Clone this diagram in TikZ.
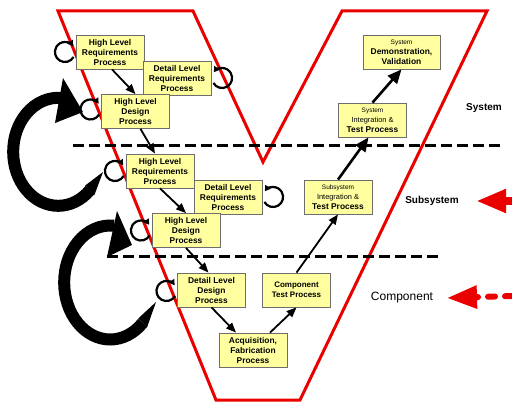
\documentclass[tikz,border=0pt]{standalone}
\usepackage{fontspec}
\setmainfont{Liberation Sans}
\usetikzlibrary{arrows.meta,calc}
\definecolor{boxfill}{RGB}{255,255,160}
\definecolor{boxline}{RGB}{110,110,110}
\definecolor{vred}{RGB}{235,0,0}
\begin{document}
\begin{tikzpicture}[x=1pt,y=-1pt,
  box/.style={draw=boxline, line width=0.8pt, fill=boxfill, minimum width=68pt, minimum height=34pt,
    inner sep=0pt, align=center, font=\fontsize{8.4}{10}\selectfont\bfseries},
  flow/.style={line width=1.8pt, -{Triangle[width=8pt,length=10pt]}},
  bigflow/.style={line width=2.6pt, -{Triangle[width=12pt,length=14pt]}},
  loopc/.style={line width=2.2pt, -{Triangle[width=6.5pt,length=5.5pt]}},
  dashline/.style={line width=3pt, dash pattern=on 11pt off 5pt},
  swirl/.style={line width=12pt, black},
  lvl/.style={font=\fontsize{10}{12}\selectfont\bfseries, inner sep=0pt},
  redarrow/.style={vred, line width=8pt, -{Triangle[width=22pt,length=30pt]}},
  reddash/.style={vred, line width=6pt, line cap=round, dash pattern=on 7pt off 10pt, -{Triangle[width=22pt,length=30pt]}}
]
\useasboundingbox (0,0) rectangle (512,404);

% V shape
\draw[vred, line width=3pt, line join=miter] (58,11) -- (193,11) -- (263,162) -- (342,11) -- (487,11) -- (300,400) -- (216,400) -- cycle;

% level separators
\coordinate (d1a) at (73,145); \coordinate (d1b) at (500,145);
\coordinate (d2a) at (107,256); \coordinate (d2b) at (440,256);
\draw[dashline] (d1a) -- (d1b);
\draw[dashline] (d2a) -- (d2b);

% big swirl arrows (with tapered tails)
\coordinate (s1) at (90,190);
\draw[swirl] (s1) arc[start angle=45, end angle=275, x radius=45, y radius=54];
\fill (94.5,194.8) -- (103,172) -- (85.2,185.5) -- cycle;
\fill (63,78) -- (83,112) -- (55,123) -- cycle;
\coordinate (s2) at (142.7,322.8);
\draw[swirl] (s2) arc[start angle=45, end angle=275, x radius=46, y radius=57];
\fill (147.1,327.2) -- (156,302) -- (138.3,318.4) -- cycle;
\fill (117,211) -- (132,245) -- (107,257) -- cycle;

% boxes
\node[box] (b1) at (110,52) {High Level\\Requirements\\Process};
\node[box] (b2) at (177,78) {Detail Level\\Requirements\\Process};
\node[box] (b3) at (135.5,111.5) {High Level\\Design\\Process};
\node[box] (b4) at (160,171) {High Level\\Requirements\\Process};
\node[box] (b5) at (228,197) {Detail Level\\Requirements\\Process};
\node[box] (b6) at (186,230.5) {High Level\\Design\\Process};
\node[box] (b7) at (211.5,290) {Detail Level\\Design\\Process};
\node[box] (b8) at (253,350) {Acquisition,\\Fabrication\\Process};
\node[box, font=\fontsize{8}{10}\selectfont\bfseries] (b9) at (296.5,290) {Component\\Test Process};
\node[box] (b10) at (338,197) {{\fontsize{6.5}{10}\selectfont\mdseries Subsystem}\\{\fontsize{7.4}{10}\selectfont\mdseries Integration \&}\\Test Process};
\node[box] (b11) at (372.5,120) {{\fontsize{6.5}{10}\selectfont\mdseries System}\\{\fontsize{7.4}{10}\selectfont\mdseries Integration \&}\\Test Process};
\node[box, minimum width=77pt] (b12) at (401.5,52) {{\fontsize{6.5}{10}\selectfont\mdseries System}\\Demonstration,\\Validation};

% self loops
\draw[loopc] ($(b1.west)+(-2,5)$) arc[start angle=30, end angle=325, radius=10];
\draw[loopc] ($(b3.west)+(-2,3)$) arc[start angle=30, end angle=325, radius=10];
\draw[loopc] ($(b4.west)+(-2,5)$) arc[start angle=30, end angle=325, radius=10];
\draw[loopc] ($(b6.west)+(-2,5)$) arc[start angle=30, end angle=325, radius=10];
\draw[loopc] ($(b7.west)+(-2,6)$) arc[start angle=30, end angle=325, radius=10];
\draw[loopc] ($(b2.east)+(2,5)$) arc[start angle=150, end angle=-145, radius=10];
\draw[loopc] ($(b5.east)+(2,5)$) arc[start angle=150, end angle=-145, radius=10];

% flow arrows
\draw[flow] ($(b1.south)+(2,0)$) -- (b3.north);
\draw[flow] ($(b3.south)+(5,0)$) -- ($(b4.north)+(-5,0)$);
\draw[flow] (b4.south) -- (b6.north);
\draw[flow] (b6.south) -- ($(b7.north)+(-3,0)$);
\draw[flow] (b7.south) -- ($(b8.north)+(-17,0)$);
\draw[flow] ($(b8.north)+(17,0)$) -- (b9.south);
\draw[flow] (b9.north) -- (b10.south);
\draw[bigflow] (b10.north) -- ($(b11.south)+(-4,0)$);
\draw[bigflow] (b11.north) -- (b12.south);

% level labels
\node[lvl] (sys) at (484,108) {System};
\node[lvl] (sub) at (432,201) {Subsystem};
\node[lvl, font=\fontsize{12}{14}\selectfont] (cmp) at (402,298) {Component};

% red pointers
\coordinate (subsrc) at (512,201); \coordinate (subtip) at (476,201);
\draw[redarrow] (subsrc) -- (subtip);
\coordinate (cmpsrc) at (512,296); \coordinate (cmptip) at (447,298);
\draw[reddash] (cmpsrc) -- (cmptip);
\end{tikzpicture}
\end{document}
